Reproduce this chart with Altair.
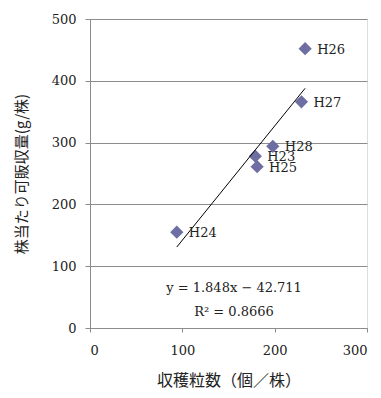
import altair as alt
import pandas as pd

# data
labels = ["H23", "H24", "H25", "H26", "H27", "H28"]
grains = [179, 94, 181, 233, 229, 198]          # 収穫粒数（個／株）
yields = [278, 155, 261, 452, 366, 294]         # 株当たり可販収量(g/株)

slope = [1.848]
intercept = [-42.711]
eq_lines = ["y = 1.848x − 42.711", "R² = 0.8666"]
eq_x = [156, 156]
eq_y = [64, 26]

x_ticks = [0, 100, 200, 300]
y_ticks = [0, 100, 200, 300, 400, 500]

pts = pd.DataFrame({"label": labels, "x": grains, "y": yields})
xmin, xmax = min(grains), max(grains)
trend = pd.DataFrame({
    "x": [xmin, xmax],
    "y": [slope[0] * xmin + intercept[0], slope[0] * xmax + intercept[0]],
})
eq = pd.DataFrame({"text": eq_lines, "x": eq_x, "y": eq_y})

SERIF = "DejaVu Serif"
JP = "Noto Sans CJK JP"
GRID = "#8c8c8c"

xscale = alt.Scale(domain=[0, 300], nice=False)
yscale = alt.Scale(domain=[0, 500], nice=False)

xaxis = alt.Axis(values=x_ticks, title="収穫粒数（個／株）", grid=False,
                 labelFont=SERIF, labelFontSize=13, labelColor="#222",
                 labelPadding=12, tickSize=4, tickColor=GRID, domainColor=GRID,
                 titleFont=JP, titleFontSize=16, titleFontWeight="normal",
                 titleColor="#222", titlePadding=15)
yaxis = alt.Axis(values=y_ticks, title="株当たり可販収量(g/株)", grid=True,
                 gridColor=GRID, gridWidth=1,
                 labelFont=SERIF, labelFontSize=13, labelColor="#222",
                 labelPadding=9, tickSize=5, tickColor=GRID, domainColor=GRID,
                 titleFont=JP, titleFontSize=15, titleFontWeight="normal",
                 titleColor="#222", titlePadding=22)

base_x = alt.X("x:Q", scale=xscale, axis=xaxis)
base_y = alt.Y("y:Q", scale=yscale, axis=yaxis)

points = alt.Chart(pts).mark_point(
    shape="diamond", filled=True, size=175, color="#6E6EA2", opacity=1
).encode(x=base_x, y=base_y)

point_labels = alt.Chart(pts).mark_text(
    align="left", baseline="middle", dx=12, dy=1, font=SERIF, fontSize=13,
    color="#222"
).encode(x=alt.X("x:Q", scale=xscale), y=alt.Y("y:Q", scale=yscale), text="label:N")

line = alt.Chart(trend).mark_line(color="black", strokeWidth=1).encode(
    x=alt.X("x:Q", scale=xscale), y=alt.Y("y:Q", scale=yscale)
)

eq_text = alt.Chart(eq).mark_text(
    align="center", baseline="middle", font=SERIF, fontSize=13, color="#222"
).encode(x=alt.X("x:Q", scale=xscale), y=alt.Y("y:Q", scale=yscale), text="text:N")

chart = alt.layer(points, line, point_labels, eq_text).properties(
    width=277, height=309,
    autosize=alt.AutoSizeParams(type="none"),
    padding={"left": 82, "top": 11, "right": 6, "bottom": 62},
).configure_view(stroke=None).configure(background="white")

chart.save("out.html", embed_options={"renderer": "svg", "actions": False})
